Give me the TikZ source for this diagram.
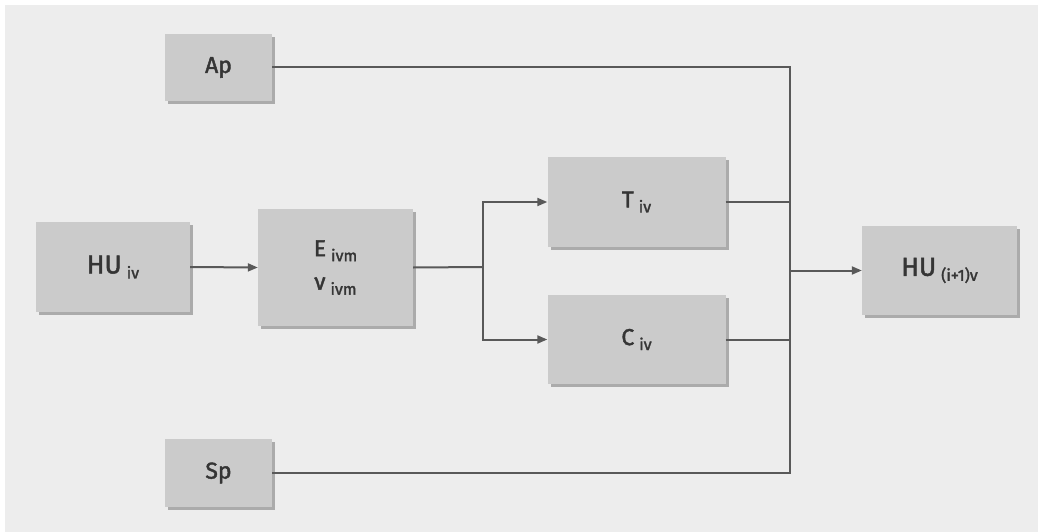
\documentclass[tikz,border=0pt]{standalone}
\usepackage{fontspec}
\setmainfont{Fira Sans}[FakeBold=1.8]
\usetikzlibrary{arrows.meta,shadows}
\definecolor{canvas}{HTML}{EDEDED}
\definecolor{boxfill}{HTML}{CBCBCB}
\definecolor{ink}{HTML}{353535}
\definecolor{wire}{HTML}{595959}
\tikzset{
  block/.style={draw=none, fill=boxfill, text=ink, inner sep=0pt,
    drop shadow={shadow xshift=3pt, shadow yshift=-3pt, fill=black, opacity=0.28}},
  wireline/.style={draw=wire, line width=2pt},
  arrowline/.style={wireline, -{Triangle[length=10pt,width=8pt]}},
}
% label: base text at size #1, then a lowered index in a smaller size
\newcommand{\lbl}[3]{{\fontsize{#1}{#1}\selectfont #2}\hspace{5pt}{\fontsize{16}{16}\selectfont\raisebox{-5pt}{#3}}}
\begin{document}
\begin{tikzpicture}[x=1pt,y=-1pt]
  \useasboundingbox (0,0) rectangle (1038,532);
  \fill[white] (0,0) rectangle (1038,532);
  \fill[canvas] (5,5) rectangle (1038,532);

  % blocks
  \node[block, minimum width=107pt, minimum height=67pt] (Ap) at (218.5,67.5)
    {\fontsize{23}{23}\selectfont Ap};
  \node[block, minimum width=107pt, minimum height=68pt] (Sp) at (218.5,473)
    {\fontsize{23}{23}\selectfont Sp};
  \node[block, minimum width=154pt, minimum height=90pt] (HUa) at (113,267)
    {\lbl{26}{HU}{iv}};
  \node[block, minimum width=155pt, minimum height=117pt, align=center] (E) at (335.5,267.5)
    {\lbl{23}{E}{ivm}\\[15pt]\lbl{23}{ν}{ivm}};
  \node[block, minimum width=178pt, minimum height=90pt] (T) at (636.5,202)
    {\lbl{23}{T}{iv}};
  \node[block, minimum width=178pt, minimum height=89pt] (C) at (636.5,339.5)
    {\lbl{23}{C}{iv}};
  \node[block, minimum width=155pt, minimum height=89pt] (HUb) at (939.5,270.5)
    {\lbl{26}{HU}{(i+1)v}};

  % junction points
  \coordinate (fork) at (483,267);
  \coordinate (bus) at (790,270.5);

  % connectors
  \draw[arrowline] (HUa.east) -- (E.west);
  \draw[wireline] (E.east) -- (fork);
  \draw[arrowline] (fork) |- (T.west);
  \draw[arrowline] (fork) |- (C.west);
  \draw[wireline] (Ap.east) -| (bus);
  \draw[wireline] (Sp.east) -| (bus);
  \draw[wireline] (T.east) -- (T.east -| bus);
  \draw[wireline] (C.east) -- (C.east -| bus);
  \draw[arrowline] (bus) -- (HUb.west);
\end{tikzpicture}
\end{document}
